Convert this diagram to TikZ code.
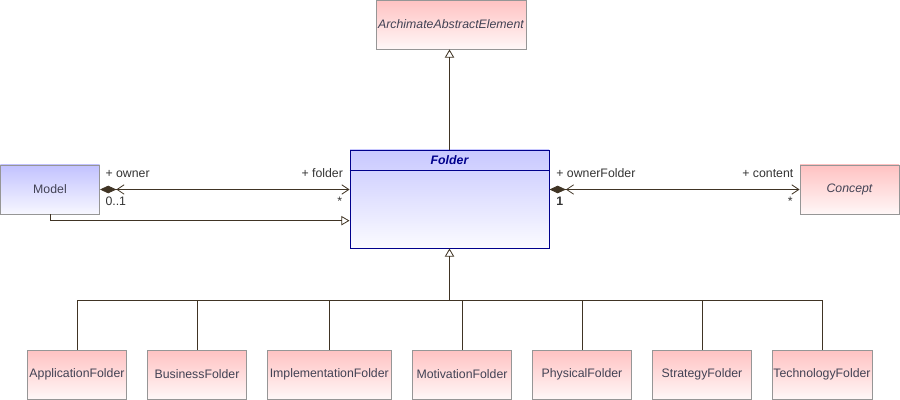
\documentclass[tikz,border=0pt]{standalone}
\usepackage{fontspec}
\setmainfont{Liberation Sans}
\usetikzlibrary{arrows.meta,shadows,positioning}

\definecolor{linebrown}{RGB}{64,52,36}
\definecolor{boxgray}{RGB}{150,150,150}
\definecolor{pinktop}{RGB}{255,194,194}
\definecolor{pinkbot}{RGB}{255,247,247}
\definecolor{bluetop}{RGB}{194,194,255}
\definecolor{bluebot}{RGB}{247,247,255}
\definecolor{foldernavy}{RGB}{0,0,140}
\definecolor{txtgray}{RGB}{66,66,84}

\tikzset{
  elem/.style={draw=boxgray, line width=0.8pt, top color=pinktop, bottom color=pinkbot,
    text=txtgray, minimum width=2.97cm, minimum height=1.47cm, inner sep=0pt},
  elemblue/.style={elem, top color=bluetop, bottom color=bluebot},
  assoc/.style={draw=linebrown, line width=0.7pt},
  gen/.style={assoc, -{Triangle[open,length=7pt,width=8pt]}},
  comp/.style={assoc, {Diamond[length=14pt,width=6.5pt] Straight Barb[length=6pt,width=8pt]}-{Straight Barb[length=6pt,width=8pt]}},
  role/.style={text=black!80, inner sep=1pt},
}

\begin{document}
\begin{tikzpicture}[x=0.03cm, y=-0.03cm, font=\fontsize{10.5}{12}\selectfont]

\useasboundingbox (0,0) rectangle (900,400);

% clases de arriba
\node[elem, minimum width=4.5cm, font=\fontsize{10.5}{12}\selectfont\itshape] (archi) at (451,24.5) {ArchimateAbstractElement};
\node[draw=foldernavy, line width=0.8pt, top color=bluetop!90!white, bottom color=bluebot!50!white,
  minimum width=5.97cm, minimum height=2.94cm, inner sep=0pt,
  general shadow={fill=gray!45, shadow xshift=1pt, shadow yshift=-1pt}] (folder) at (449.5,199) {};
\draw[foldernavy, line width=0.8pt] ([yshift=-0.63cm]folder.north west) -- ([yshift=-0.63cm]folder.north east);
\node[text=foldernavy, font=\fontsize{10.5}{12}\selectfont\bfseries\itshape] (foldername) at ([yshift=-0.315cm]folder.north) {Folder};
\node[elemblue] (model) at (50,189.5) {Model};
\node[elem, font=\fontsize{10.5}{12}\selectfont\itshape] (concept) at (849.5,189.5) {Concept};

% subclases
\node[elem] (app) at (77,374.5) {ApplicationFolder};
\node[elem] (bus) at (197,374.5) {BusinessFolder};
\node[elem, minimum width=3.72cm] (impl) at (329.3,374.5) {ImplementationFolder};
\node[elem] (mot) at (462,374.5) {MotivationFolder};
\node[elem] (phys) at (582,374.5) {PhysicalFolder};
\node[elem] (strat) at (702,374.5) {StrategyFolder};
\node[elem, minimum width=3cm] (tech) at (822,374.5) {TechnologyFolder};

% generalizaciones
\draw[gen] (folder.north) -- (folder.north |- archi.south);
\draw[gen] (model.south) |- ([yshift=-0.65cm]folder.west);

\coordinate (split) at (449.5,300);
\draw[gen] (split) -- (folder.south);
\draw[assoc] (app.north) |- (split);
\draw[assoc] (bus.north) |- (split);
\draw[assoc] (impl.north) |- (split);
\draw[assoc] (mot.north) |- (split);
\draw[assoc] (phys.north) |- (split);
\draw[assoc] (strat.north) |- (split);
\draw[assoc] (tech.north) |- (split);

% asociaciones
\draw[comp] (model.east) -- (folder.west |- model.east)
  node[role, pos=0, anchor=base west, xshift=0.12cm, yshift=0.37cm] (owner) {+ owner}
  node[role, pos=0, anchor=base west, xshift=0.12cm, yshift=-0.48cm] (ownermult) {0..1}
  node[role, pos=1, anchor=base east, xshift=-0.15cm, yshift=0.37cm] (fold) {+ folder}
  node[role, pos=1, anchor=base east, xshift=-0.17cm, yshift=-0.48cm] (foldmult) {*};

\draw[comp] (folder.east |- concept.west) -- (concept.west)
  node[role, pos=0, anchor=base west, xshift=0.16cm, yshift=0.37cm] (ownerf) {+ ownerFolder}
  node[role, pos=0, anchor=base west, xshift=0.16cm, yshift=-0.48cm] (ownerfmult) {\bfseries 1}
  node[role, pos=1, anchor=base east, xshift=-0.14cm, yshift=0.37cm] (content) {+ content}
  node[role, pos=1, anchor=base east, xshift=-0.16cm, yshift=-0.48cm] (contentmult) {*};

\end{tikzpicture}
\end{document}
